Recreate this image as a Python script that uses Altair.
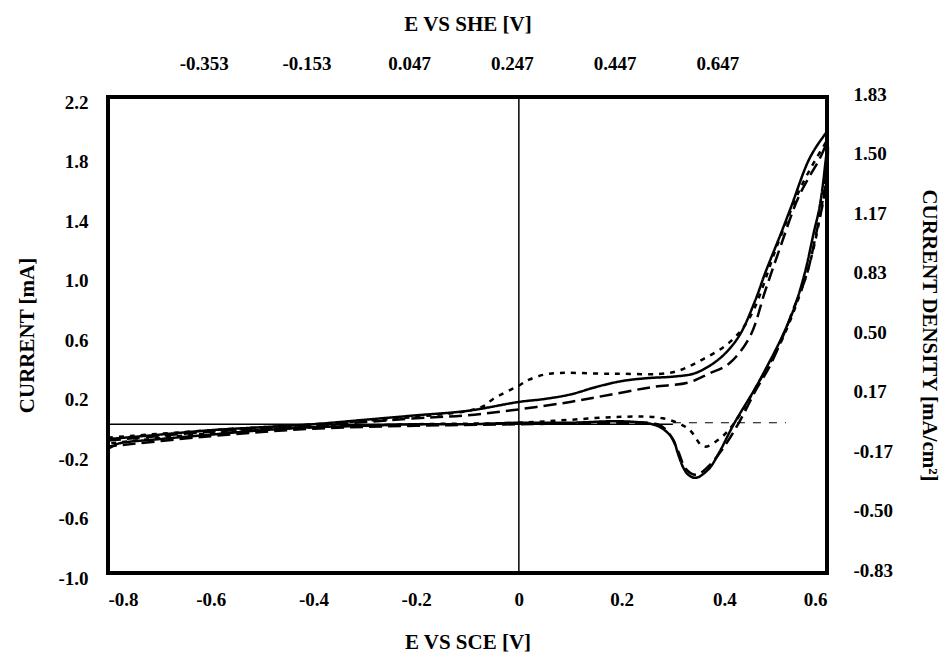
import altair as alt
import pandas as pd

# ---- data ----
solid_fwd_e = [-0.80, -0.70, -0.60, -0.50, -0.40, -0.30, -0.20, -0.10, 0.00, 0.05, 0.10, 0.15, 0.20, 0.25, 0.30, 0.34, 0.37, 0.40, 0.43, 0.46, 0.48, 0.51, 0.53, 0.565, 0.59, 0.60]
solid_fwd_i = [-0.10, -0.07, -0.04, -0.02, 0.00, 0.03, 0.06, 0.09, 0.15, 0.17, 0.20, 0.25, 0.29, 0.31, 0.32, 0.34, 0.39, 0.47, 0.60, 0.83, 1.02, 1.28, 1.46, 1.78, 1.92, 1.96]
solid_rev_e = [0.595, 0.585, 0.575, 0.557, 0.536, 0.51, 0.485, 0.46, 0.42, 0.39, 0.37, 0.345, 0.33, 0.32, 0.31, 0.30, 0.28, 0.26, 0.20, 0.10, 0.00, -0.10, -0.20, -0.30, -0.40, -0.50, -0.60, -0.70, -0.78, -0.80, -0.80]
solid_rev_i = [1.70, 1.45, 1.30, 1.02, 0.78, 0.57, 0.40, 0.24, 0.01, -0.19, -0.30, -0.36, -0.34, -0.29, -0.20, -0.10, -0.03, 0.00, 0.02, 0.01, 0.01, 0.00, 0.00, -0.01, -0.02, -0.04, -0.07, -0.10, -0.13, -0.16, -0.10]

dash_fwd_e = [-0.80, -0.60, -0.40, -0.20, -0.10, 0.00, 0.10, 0.18, 0.26, 0.33, 0.37, 0.41, 0.45, 0.48, 0.51, 0.545, 0.585, 0.60]
dash_fwd_i = [-0.11, -0.05, -0.01, 0.04, 0.06, 0.10, 0.15, 0.20, 0.25, 0.28, 0.34, 0.41, 0.59, 0.90, 1.20, 1.53, 1.78, 1.88]
dash_rev_e = [0.595, 0.58, 0.56, 0.535, 0.52, 0.49, 0.46, 0.43, 0.40, 0.37, 0.345, 0.325, 0.31, 0.29, 0.27, 0.20, 0.00, -0.20, -0.40, -0.60, -0.80]
dash_rev_i = [1.55, 1.30, 1.00, 0.78, 0.64, 0.40, 0.22, 0.02, -0.15, -0.28, -0.34, -0.30, -0.18, -0.05, 0.00, 0.01, 0.00, -0.01, -0.03, -0.08, -0.15]

dot_fwd_e = [-0.80, -0.60, -0.40, -0.20, -0.10, -0.07, -0.05, 0.00, 0.02, 0.06, 0.18, 0.30, 0.36, 0.41, 0.45, 0.505, 0.55, 0.59, 0.60]
dot_fwd_i = [-0.09, -0.04, 0.00, 0.05, 0.09, 0.12, 0.17, 0.26, 0.30, 0.34, 0.34, 0.35, 0.44, 0.55, 0.72, 1.22, 1.60, 1.85, 1.90]
dot_rev_e = [0.595, 0.575, 0.55, 0.51, 0.47, 0.42, 0.39, 0.36, 0.33, 0.28, 0.20, 0.10, 0.00, -0.20, -0.40, -0.60, -0.80]
dot_rev_i = [1.60, 1.20, 0.90, 0.55, 0.30, 0.01, -0.10, -0.15, -0.03, 0.04, 0.05, 0.03, 0.01, 0.00, -0.02, -0.06, -0.13]

x_ticks = [-0.8, -0.6, -0.4, -0.2, 0.0, 0.2, 0.4, 0.6]
top_ticks = [-0.6, -0.4, -0.2, 0.0, 0.2, 0.4]   # SCE positions of SHE labels
y_ticks = [2.2, 1.8, 1.4, 1.0, 0.6, 0.2, -0.2, -0.6, -1.0]
she_offset = 0.247
area_factor = 1.2   # mA -> mA/cm^2

# ---- build table ----
rows = []
for name, es, is_ in [("solid", solid_fwd_e + solid_rev_e, solid_fwd_i + solid_rev_i),
                      ("dashed", dash_fwd_e + dash_rev_e, dash_fwd_i + dash_rev_i),
                      ("dotted", dot_fwd_e + dot_rev_e, dot_fwd_i + dot_rev_i)]:
    for k, (e, i) in enumerate(zip(es, is_)):
        rows.append({"series": name, "idx": k, "E": e, "I": i})
curves = pd.DataFrame(rows)

FONT = "Liberation Serif"
xs = alt.Scale(domain=[-0.8, 0.6], nice=False, zero=False)
ys = alt.Scale(domain=[-1.0, 2.2], nice=False, zero=False)

neg = "(datum.value < -0.0001 ? '-' : '')"

bottom_axis = alt.Axis(values=x_ticks, title="E VS SCE [V]", orient="bottom",
                       labelExpr=f"abs(datum.value) < 0.0001 ? '0' : {neg} + format(abs(datum.value), '.1f')",
                       labelPadding=17, titlePadding=22)
left_axis = alt.Axis(values=y_ticks, title="CURRENT [mA]", orient="left",
                     labelExpr=f"{neg} + format(abs(datum.value), '.1f')",
                     labelPadding=20, labelOffset=5, titlePadding=20)
top_axis = alt.Axis(values=top_ticks, title="E VS SHE [V]", orient="top",
                    labelExpr=f"(datum.value + {she_offset} < 0 ? '-' : '') + format(abs(datum.value + {she_offset}), '.3f')",
                    labelPadding=24, labelOffset=-7, titlePadding=20)
right_axis = alt.Axis(values=y_ticks, title="CURRENT DENSITY [mA/cm²]", orient="right",
                      labelExpr=f"(datum.value < 0 ? '-' : '') + format(abs(datum.value) / {area_factor}, '.2f')",
                      labelPadding=26, labelOffset=-3, titlePadding=26, titleAngle=90)

lines = alt.Chart(curves).mark_line(color="black", strokeWidth=2.5, interpolate="catmull-rom").encode(
    x=alt.X("E:Q", scale=xs, axis=bottom_axis),
    y=alt.Y("I:Q", scale=ys, axis=left_axis),
    order="idx:Q",
    strokeDash=alt.StrokeDash("series:N",
                              scale=alt.Scale(domain=["solid", "dashed", "dotted"],
                                              range=[[1, 0], [13, 6], [5, 6]]),
                              legend=None),
)

vline = alt.Chart(pd.DataFrame({"E": [0.0], "y1": [-1.0], "y2": [2.2]})).mark_rule(
    color="black", strokeWidth=1.5).encode(
    x=alt.X("E:Q", scale=xs, axis=top_axis),
    y=alt.Y("y1:Q", scale=ys, axis=right_axis),
    y2="y2:Q",
)

hline = alt.Chart(pd.DataFrame({"x1": [-0.8], "x2": [0.30], "I": [0.0]})).mark_rule(
    color="black", strokeWidth=1.5).encode(
    x=alt.X("x1:Q", scale=xs, axis=None), x2="x2:Q", y=alt.Y("I:Q", scale=ys, axis=None))

hdash = alt.Chart(pd.DataFrame({"x1": [0.30], "x2": [0.52], "I": [0.01]})).mark_rule(
    color="black", strokeWidth=1, strokeDash=[8, 8]).encode(
    x=alt.X("x1:Q", scale=xs, axis=None), x2="x2:Q", y=alt.Y("I:Q", scale=ys, axis=None))

chart = alt.layer(lines, vline, hline, hdash).resolve_axis(
    x="independent", y="independent"
).properties(
    width=719, height=476,
    autosize=alt.AutoSizeParams(type="none"),
    padding={"left": 108, "top": 97, "right": 125, "bottom": 85},
    background="white",
).configure_view(
    stroke="black", strokeWidth=4
).configure_axis(
    ticks=False, grid=False, domain=False,
    labelFont=FONT, labelFontWeight="bold", labelFontSize=19, labelColor="black",
    titleFont=FONT, titleFontWeight="bold", titleFontSize=21, titleColor="black",
)

chart.save("out.html", embed_options={"renderer": "svg", "actions": False})
